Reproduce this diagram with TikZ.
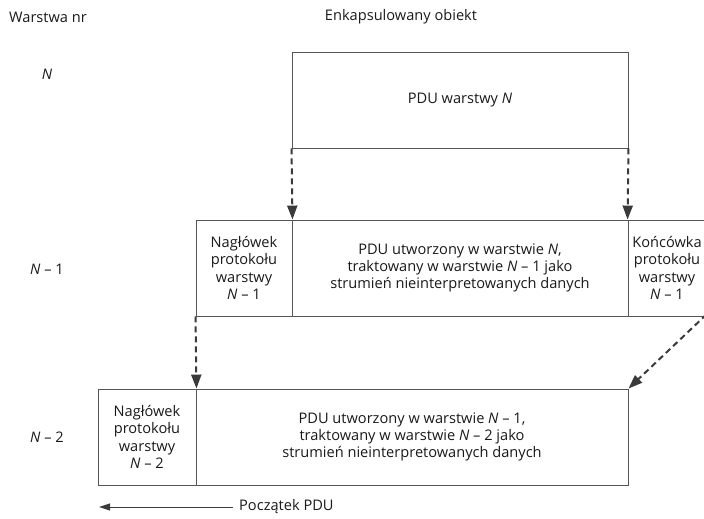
\documentclass[tikz,border=0pt]{standalone}
\usepackage{fontspec}
\setmainfont{Open Sans}
\usetikzlibrary{arrows.meta}
\definecolor{boxc}{HTML}{555555}
\definecolor{arrc}{HTML}{3A3A3A}
\begin{document}
\begin{tikzpicture}[x=1pt,y=-1pt,
  font=\fontsize{14.6}{17.3}\selectfont,
  box/.style={draw=boxc,line width=0.9pt,rectangle,inner sep=0pt,minimum height=96pt,align=center,text=black!90},
  dasharrow/.style={draw=arrc,line width=2pt,dash pattern=on 6pt off 4pt,-{Triangle[length=14pt,width=10pt,fill=arrc]}},
  lbl/.style={text=black!90,inner sep=0pt}]
\useasboundingbox (0,0) rectangle (704,519);
\clip (0,0) rectangle (704,519);
\node[lbl] (hl) at (48,17) {Warstwa nr};
\node[lbl] (hr) at (401,17) {Enkapsulowany obiekt};
\node[lbl] (lN) at (47,74) {\textit{N}};
\node[lbl] (lN1) at (47,269) {\textit{N} – 1};
\node[lbl] (lN2) at (47,437) {\textit{N} – 2};
% top
\node[box,minimum width=336pt] (top) at (460,100) {PDU warstwy \textit{N}};
% middle
\node[box,minimum width=96pt] (hdr1) at (244,268) {Nagłówek\\protokołu\\warstwy\\\textit{N} – 1};
\node[box,minimum width=336pt] (pdu1) at (460,268) {PDU utworzony w warstwie \textit{N},\\traktowany w warstwie \textit{N} – 1 jako\\strumień nieinterpretowanych danych};
\node[box,minimum width=78pt] (trl1) at (667,268) {Końcówka\\protokołu\\warstwy\\\textit{N} – 1};
% bottom
\node[box,minimum width=98pt] (hdr2) at (147,437) {Nagłówek\\protokołu\\warstwy\\\textit{N} – 2};
\node[box,minimum width=432pt] (pdu2) at (412,437) {PDU utworzony w warstwie \textit{N} – 1,\\traktowany w warstwie \textit{N} – 2 jako\\strumień nieinterpretowanych danych};
% arrows
\draw[dasharrow] (top.south west) -- (hdr1.north east);
\draw[dasharrow] (top.south east) -- (trl1.north west);
\draw[dasharrow] (hdr1.south west) -- (hdr2.north east);
\coordinate (dstart) at ([yshift=2pt]trl1.south east);
\draw[dasharrow] (dstart) -- (pdu2.north east);
% start of PDU
\node[lbl,anchor=west] (pocz) at (239,507) {Początek PDU};
\coordinate (pend) at (99,507);
\draw[draw=arrc,line width=1pt,-{Triangle[length=11pt,width=7pt,fill=arrc]}] (pocz.west) ++(-6,0) -- (pend);
\end{tikzpicture}
\end{document}
